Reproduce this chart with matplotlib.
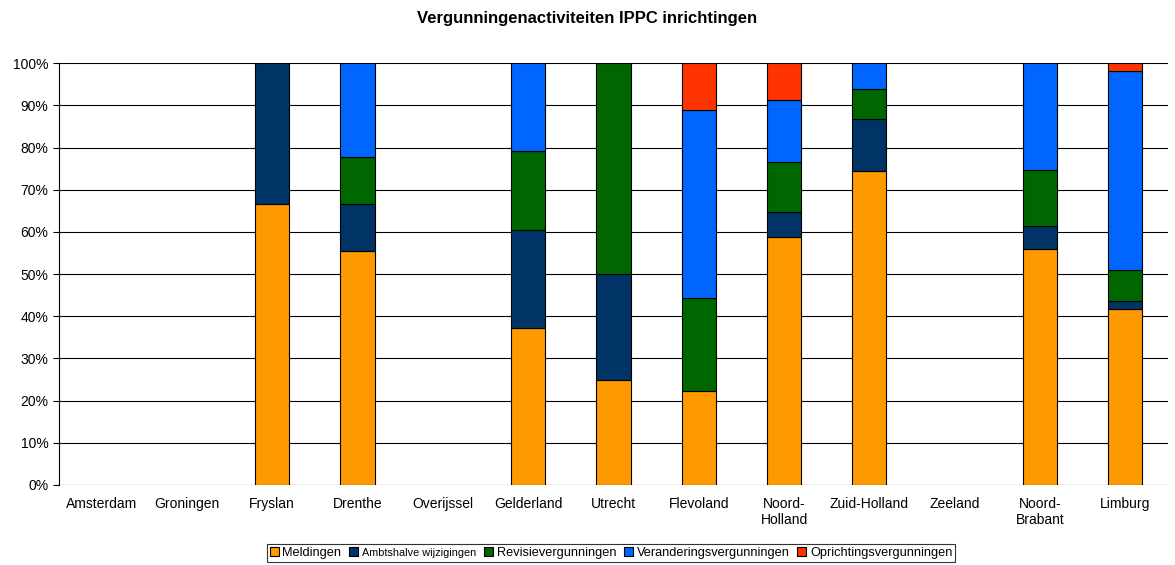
import matplotlib

matplotlib.use("Agg")
import matplotlib.pyplot as plt
import numpy as np

# Data (percentages per province)
provinces = ["Amsterdam", "Groningen", "Fryslan", "Drenthe", "Overijssel", "Gelderland", "Utrecht",
             "Flevoland", "Noord-\nHolland", "Zuid-Holland", "Zeeland", "Noord-\nBrabant", "Limburg"]
meldingen = [0, 0, 66.7, 55.6, 0, 37.2, 25.0, 22.2, 58.8, 74.4, 0, 56.0, 41.7]
ambtshalve = [0, 0, 33.3, 11.1, 0, 23.3, 25.0, 0, 5.9, 12.4, 0, 5.3, 1.9]
revisie = [0, 0, 0, 11.1, 0, 18.6, 50.0, 22.2, 11.8, 7.1, 0, 13.4, 7.3]
verandering = [0, 0, 0, 22.2, 0, 20.9, 0, 44.5, 14.7, 6.1, 0, 25.3, 47.2]
oprichting = [0, 0, 0, 0, 0, 0, 0, 11.1, 8.8, 0, 0, 0, 1.9]

series = [("Meldingen", meldingen, "#FF9900"),
          ("Ambtshalve wijzigingen", ambtshalve, "#003366"),
          ("Revisievergunningen", revisie, "#006600"),
          ("Veranderingsvergunningen", verandering, "#0066FF"),
          ("Oprichtingsvergunningen", oprichting, "#FF3300")]

plt.rcParams["font.family"] = ["Liberation Sans", "DejaVu Sans"]

fig = plt.figure(figsize=(11.75, 5.65), dpi=100)
ax = fig.add_axes([0.0502, 0.1416, 0.9438, 0.7464])

x = np.arange(len(provinces))
bottom = np.zeros(len(provinces))
handles = []
for name, vals, color in series:
    vals = np.array(vals, dtype=float)
    # skip empty segments so no stray outline is drawn
    keep = vals > 0
    b = ax.bar(x[keep], vals[keep], width=0.4, bottom=bottom[keep], color=color, edgecolor="black",
               linewidth=0.8, label=name, zorder=3)
    handles.append(b)
    bottom += vals

ax.set_xlim(-0.5, len(provinces) - 0.5)
ax.set_ylim(0, 100)
ax.set_yticks(np.arange(0, 101, 10))
ax.set_yticklabels(["%d%%" % v for v in range(0, 101, 10)], fontsize=10)
ax.set_xticks(x)
ax.set_xticklabels(provinces, fontsize=10, linespacing=1.1)
ax.tick_params(axis="x", length=0, pad=9)
ax.tick_params(axis="y", length=4, width=0.8, direction="out")
ax.yaxis.grid(True, color="black", linewidth=0.8, zorder=0)
for side in ["top", "right", "bottom"]:
    ax.spines[side].set_visible(False)
ax.spines["left"].set_linewidth(0.8)

fig.suptitle("Vergunningenactiviteiten IPPC inrichtingen", fontsize=12, fontweight="bold", y=0.98)

leg = fig.legend(handles=handles, loc="center", bbox_to_anchor=(0.520, 0.021), ncol=5, fontsize=9.2,
                 frameon=True, fancybox=False, edgecolor="black", handlelength=0.7, handleheight=0.7,
                 handletextpad=0.3, columnspacing=0.6, borderpad=0.25)
leg.get_frame().set_linewidth(0.8)
leg.get_texts()[1].set_fontsize(7.8)

fig.savefig("out.png", dpi=100)
